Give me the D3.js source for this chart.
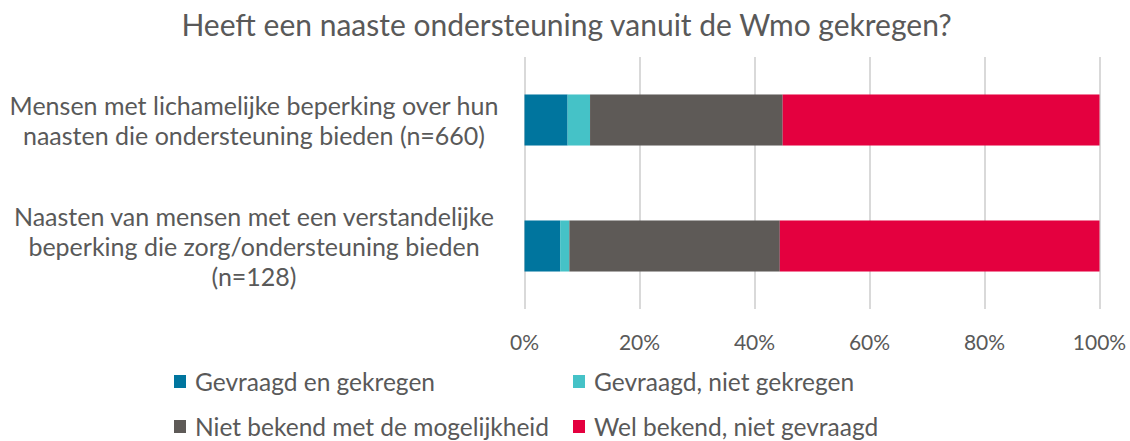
<!DOCTYPE html>
<html lang="nl">
  <head>
    <meta charset="utf-8" />
    <title>Heeft een naaste ondersteuning vanuit de Wmo gekregen?</title>
    <script src="https://d3js.org/d3.v7.min.js"></script>
    <style>
      body {
        margin: 0;
        background: #fff;
      }
      text {
        font-family: "Lato", "Open Sans", sans-serif;
        fill: #595959;
      }
      .grid line {
        stroke: #d9d9d9;
        stroke-width: 2;
      }
      .grid .domain {
        display: none;
      }
    </style>
  </head>
  <body>
    <svg width="1130" height="441"></svg>
    <script>
      const categories = [
        "Mensen met lichamelijke beperking over hun|naasten die ondersteuning bieden (n=660)",
        "Naasten van mensen met een verstandelijke|beperking die zorg/ondersteuning bieden|(n=128)",
      ];
      const seriesNames = [
        "Gevraagd en gekregen",
        "Gevraagd, niet gekregen",
        "Niet bekend met de mogelijkheid",
        "Wel bekend, niet gevraagd",
      ];
      const colours = ["#00759e", "#45c2c7", "#5e5a57", "#e4003f"];
      // percentages per category, in series order
      const gevraagdGekregen = [7.5, 6.2];
      const gevraagdNiet = [3.9, 1.6];
      const nietBekend = [33.5, 36.6];
      const welBekend = [55.1, 55.6];
      const ticks = [0, 20, 40, 60, 80, 100];

      const svg = d3.select("svg");
      const plot = { left: 524.5, right: 1099.5, top: 57, bottom: 309 };

      const x = d3.scaleLinear().domain([0, 100]).range([plot.left, plot.right]);
      const y = d3
        .scaleBand()
        .domain(categories)
        .range([plot.top, plot.bottom])
        .paddingInner(0.595)
        .paddingOuter(0.2975);

      // gridlines
      svg
        .append("g")
        .attr("class", "grid")
        .attr("transform", `translate(0,${plot.bottom})`)
        .call(
          d3
            .axisBottom(x)
            .tickValues(ticks)
            .tickSize(-(plot.bottom - plot.top))
            .tickFormat("")
        );

      // tick labels
      svg
        .append("g")
        .selectAll("text")
        .data(ticks)
        .join("text")
        .attr("x", (d) => x(d))
        .attr("y", 341)
        .attr("text-anchor", "middle")
        .attr("dominant-baseline", "central")
        .attr("font-size", "21px")
        .text((d) => d + "%");

      // stacked data
      const rows = categories.map((c, i) => ({
        cat: c,
        v0: gevraagdGekregen[i],
        v1: gevraagdNiet[i],
        v2: nietBekend[i],
        v3: welBekend[i],
      }));
      const stack = d3.stack().keys(["v0", "v1", "v2", "v3"])(rows);

      svg
        .append("g")
        .selectAll("g")
        .data(stack)
        .join("g")
        .attr("fill", (d, i) => colours[i])
        .selectAll("rect")
        .data((d) => d)
        .join("rect")
        .attr("x", (d) => x(d[0]))
        .attr("y", (d) => y(d.data.cat))
        .attr("width", (d) => x(d[1]) - x(d[0]))
        .attr("height", y.bandwidth());

      // category labels
      const catLabels = svg
        .append("g")
        .selectAll("text")
        .data(categories)
        .join("text")
        .attr("text-anchor", "middle")
        .attr("font-size", "25px");
      catLabels.each(function (c) {
        const lines = c.split("|");
        const cy = y(c) + y.bandwidth() / 2;
        d3.select(this)
          .selectAll("tspan")
          .data(lines)
          .join("tspan")
          .attr("x", 254)
          .attr("y", (d, i) => cy + (i - (lines.length - 1) / 2) * 30)
          .attr("dominant-baseline", "central")
          .text((d) => d);
      });

      // legend
      const legendPos = [
        { x: 174, y: 381.5 },
        { x: 573, y: 381.5 },
        { x: 174, y: 426.5 },
        { x: 573, y: 426.5 },
      ];
      const legend = svg
        .append("g")
        .selectAll("g")
        .data(seriesNames)
        .join("g")
        .attr("transform", (d, i) => `translate(${legendPos[i].x},${legendPos[i].y})`);
      legend
        .append("rect")
        .attr("x", 0)
        .attr("y", -6.5)
        .attr("width", 12)
        .attr("height", 13)
        .attr("fill", (d, i) => colours[i]);
      legend
        .append("text")
        .attr("x", 21)
        .attr("dominant-baseline", "central")
        .attr("font-size", "24.5px")
        .text((d) => d);

      // title
      svg
        .append("text")
        .attr("x", 566.5)
        .attr("y", 24)
        .attr("text-anchor", "middle")
        .attr("dominant-baseline", "central")
        .attr("font-size", "30px")
        .text("Heeft een naaste ondersteuning vanuit de Wmo gekregen?");
    </script>
  </body>
</html>
